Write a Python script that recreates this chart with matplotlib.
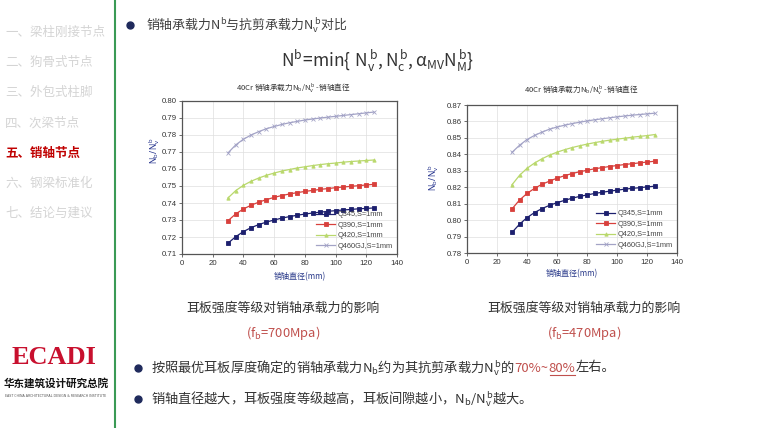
import matplotlib
matplotlib.use("Agg")
import matplotlib.pyplot as plt

plt.rcParams['font.family'] = ['Noto Sans CJK SC', 'DejaVu Sans']
plt.rcParams['mathtext.fontset'] = 'custom'
plt.rcParams['mathtext.rm'] = 'Noto Sans'
plt.rcParams['mathtext.it'] = 'Noto Sans:italic'
plt.rcParams['mathtext.bf'] = 'Noto Sans:bold'

# ---- data ----
diameter = [30, 35, 40, 45, 50, 55, 60, 65, 70, 75, 80, 85, 90, 95, 100, 105, 110, 115, 120, 125]
series_names = ["Q345,S=1mm", "Q390,S=1mm", "Q420,S=1mm", "Q460GJ,S=1mm"]

# left chart, fb = 700 MPa
left_q345 = [0.7164, 0.7202, 0.7232, 0.7255, 0.7273, 0.7288, 0.7300, 0.7311, 0.7320, 0.7328,
             0.7335, 0.7341, 0.7346, 0.7351, 0.7355, 0.7359, 0.7362, 0.7366, 0.7368, 0.7371]
left_q390 = [0.7296, 0.7336, 0.7365, 0.7387, 0.7405, 0.7420, 0.7433, 0.7444, 0.7453, 0.7461,
             0.7468, 0.7474, 0.7480, 0.7485, 0.7490, 0.7494, 0.7498, 0.7502, 0.7506, 0.7510]
left_q420 = [0.7430, 0.7473, 0.7504, 0.7528, 0.7547, 0.7563, 0.7576, 0.7588, 0.7597, 0.7606,
             0.7613, 0.7620, 0.7626, 0.7631, 0.7635, 0.7640, 0.7644, 0.7647, 0.7650, 0.7653]
left_q460 = [0.7695, 0.7742, 0.7775, 0.7800, 0.7820, 0.7837, 0.7850, 0.7862, 0.7872, 0.7880,
             0.7888, 0.7894, 0.7900, 0.7905, 0.7910, 0.7915, 0.7920, 0.7925, 0.7930, 0.7935]

# right chart, fb = 470 MPa
right_q345 = [0.7925, 0.7975, 0.8015, 0.8046, 0.8070, 0.8090, 0.8106, 0.8120, 0.8133, 0.8144,
              0.8153, 0.8162, 0.8169, 0.8176, 0.8182, 0.8188, 0.8193, 0.8197, 0.8202, 0.8206]
right_q390 = [0.8068, 0.8122, 0.8162, 0.8193, 0.8218, 0.8237, 0.8255, 0.8270, 0.8283, 0.8294,
              0.8303, 0.8312, 0.8319, 0.8326, 0.8332, 0.8338, 0.8343, 0.8348, 0.8353, 0.8358]
right_q420 = [0.8215, 0.8272, 0.8315, 0.8347, 0.8373, 0.8395, 0.8413, 0.8428, 0.8441, 0.8452,
              0.8462, 0.8471, 0.8479, 0.8486, 0.8492, 0.8498, 0.8504, 0.8509, 0.8514, 0.8520]
right_q460 = [0.8412, 0.8455, 0.8490, 0.8515, 0.8535, 0.8553, 0.8566, 0.8577, 0.8587, 0.8595,
              0.8603, 0.8610, 0.8616, 0.8622, 0.8628, 0.8633, 0.8638, 0.8642, 0.8646, 0.8650]

left_yticks = [0.71, 0.72, 0.73, 0.74, 0.75, 0.76, 0.77, 0.78, 0.79, 0.80]
right_yticks = [0.78, 0.79, 0.80, 0.81, 0.82, 0.83, 0.84, 0.85, 0.86, 0.87]
xticks = [0, 20, 40, 60, 80, 100, 120, 140]

menu = ["一、梁柱刚接节点", "二、狗骨式节点", "三、外包式柱脚", "四、次梁节点",
        "五、销轴节点", "六、钢梁标准化", "七、结论与建议"]
active_item = 4

W, H = 760, 428
fig = plt.figure(figsize=(W / 100, H / 100), dpi=100)
fig.patch.set_facecolor("white")


def fx(x):
    return x / W


def fy(y):
    return 1 - y / H


def ptext(x, y, s, **kw):
    return fig.text(fx(x), fy(y), s, **kw)


# ---- sidebar ----
menu_y = [32, 62, 92, 123, 153, 183, 213]
for i, (label, y) in enumerate(zip(menu, menu_y)):
    if i == active_item:
        ptext(5, y, label, fontsize=9, color="#c00000", fontweight="bold", va="center")
    else:
        ptext(5, y, label, fontsize=9, color="#d4d4d4", va="center")

fig.add_artist(plt.Line2D([fx(115), fx(115)], [0, 1], color="#3a9a55", lw=1.5))

ptext(54, 358, "ECADI", fontsize=19, color="#c8102e", fontweight="bold",
      family="Liberation Serif", ha="center", va="center")
ptext(56, 383, "华东建筑设计研究总院", fontsize=7.6, color="#111111", fontweight="bold",
      ha="center", va="center")
ptext(56, 396, "EAST CHINA ARCHITECTURAL DESIGN & RESEARCH INSTITUTE", fontsize=2.3,
      color="#555555", family="DejaVu Sans", ha="center", va="center")

# ---- header ----
navy = "#1f2a5c"
fig.add_artist(plt.Line2D([fx(130)], [fy(25)], marker="o", ms=5, color=navy))
ptext(146, 25, r"销轴承载力$\mathregular{N^b}$与抗剪承载力$\mathregular{N_v^{\,b}}$对比",
      fontsize=9.3, color="#404040", va="center")
ptext(378, 61, r"$\mathregular{N^b\!=\!min\{\ N_v^{\,b},N_c^{\,b},\alpha_{MV}N_M^{\,b}\}}$",
      fontsize=12.5, color="#333333", ha="center", va="center")

# ---- charts ----
colors = ["#1c1f6e", "#d8403c", "#b9d86c", "#a3a3c6"]
markers = ["s", "s", "^", "x"]
tick_font = dict(family=["Liberation Sans", "DejaVu Sans"], size=5.6)


def draw_chart(rect, series, yticks, title_xy, ylabel_xy, xlabel_xy):
    ax = fig.add_axes(rect)
    for vals, name, c, m in zip(series, series_names, colors, markers):
        ax.plot(diameter, vals, color=c, lw=0.9, marker=m,
                ms=2.4 if m != "x" else 3, mew=0.6, label=name)
    ax.set_xlim(0, 140)
    ax.set_ylim(yticks[0], yticks[-1])
    ax.set_xticks(xticks)
    ax.set_yticks(yticks)
    ax.set_xticklabels([str(v) for v in xticks], fontdict=tick_font, color="#333333")
    ax.set_yticklabels(["%.2f" % v for v in yticks], fontdict=tick_font, color="#333333")
    ax.tick_params(direction="out", length=2, width=0.6, pad=2, color="#555555")
    ax.grid(True, color="#dedede", lw=0.5)
    ax.set_axisbelow(True)
    for sp in ax.spines.values():
        sp.set_color("#555555")
        sp.set_linewidth(0.9)
    leg = ax.legend(loc="lower right", frameon=False, handlelength=2.6,
                    labelspacing=0.45, handletextpad=0.3, borderaxespad=0.2,
                    prop={"family": ["Liberation Sans", "DejaVu Sans"], "size": 5.3})
    for t in leg.get_texts():
        t.set_color("#444444")
    ptext(*title_xy, r"40Cr 销轴承载力$\mathregular{N_b/N_v^{\,b}}$ -销轴直径",
          fontsize=5.5, color="#333333", ha="center", va="center")
    ptext(*ylabel_xy, r"$\mathbf{N_b/\,N_v^{\,b}}$", fontsize=6, color="#1f2d8a",
          rotation=90, ha="center", va="center")
    ptext(*xlabel_xy, "销轴直径(mm)", fontsize=5.8, color="#2a3a8a", ha="center", va="center")
    return ax


draw_chart([fx(182), fy(254), (397 - 182) / W, (254 - 101) / H],
           [left_q345, left_q390, left_q420, left_q460], left_yticks,
           (293, 87), (155, 150), (300, 277))
draw_chart([fx(467), fy(253), (677 - 467) / W, (253 - 105) / H],
           [right_q345, right_q390, right_q420, right_q460], right_yticks,
           (581, 90), (434, 177), (572, 274))

# ---- captions ----
ptext(283, 308, "耳板强度等级对销轴承载力的影响", fontsize=9.3, color="#333333",
      ha="center", va="center")
ptext(283, 333, r"(f$\mathregular{_b}$=700Mpa)", fontsize=9.3, color="#c0504d",
      ha="center", va="center")
ptext(584, 308, "耳板强度等级对销轴承载力的影响", fontsize=9.3, color="#333333",
      ha="center", va="center")
ptext(584, 333, r"(f$\mathregular{_b}$=470Mpa)", fontsize=9.3, color="#c0504d",
      ha="center", va="center")

# ---- bullet lines ----
renderer = fig.canvas.get_renderer()


def segments(x, y, parts, size):
    for s, c, ul in parts:
        t = ptext(x, y, s, fontsize=size, color=c, va="center")
        bb = t.get_window_extent(renderer)
        if ul:
            fig.add_artist(plt.Line2D([(bb.x0 + 1) / W, (bb.x1 - 1) / W], [fy(y + 7), fy(y + 7)],
                                      color=c, lw=0.8))
        x = bb.x1


for y in (368, 399):
    fig.add_artist(plt.Line2D([fx(138)], [fy(y)], marker="o", ms=5, color=navy))

txt = "#333333"
red = "#c0504d"
segments(151, 368, [
    (r"按照最优耳板厚度确定的销轴承载力N$\mathregular{_b}$约为其抗剪承载力N$\mathregular{_v^{\,b}}$的",
     txt, False),
    ("70%~", red, False),
    ("80%", red, True),
    ("左右。", txt, False),
], 9.5)
ptext(151, 399, r"销轴直径越大，耳板强度等级越高，耳板间隙越小，N$\mathregular{_b}$/N$\mathregular{_v^{\,b}}$越大。",
      fontsize=9.5, color=txt, va="center")

fig.savefig("out.png", dpi=100, facecolor="white")
